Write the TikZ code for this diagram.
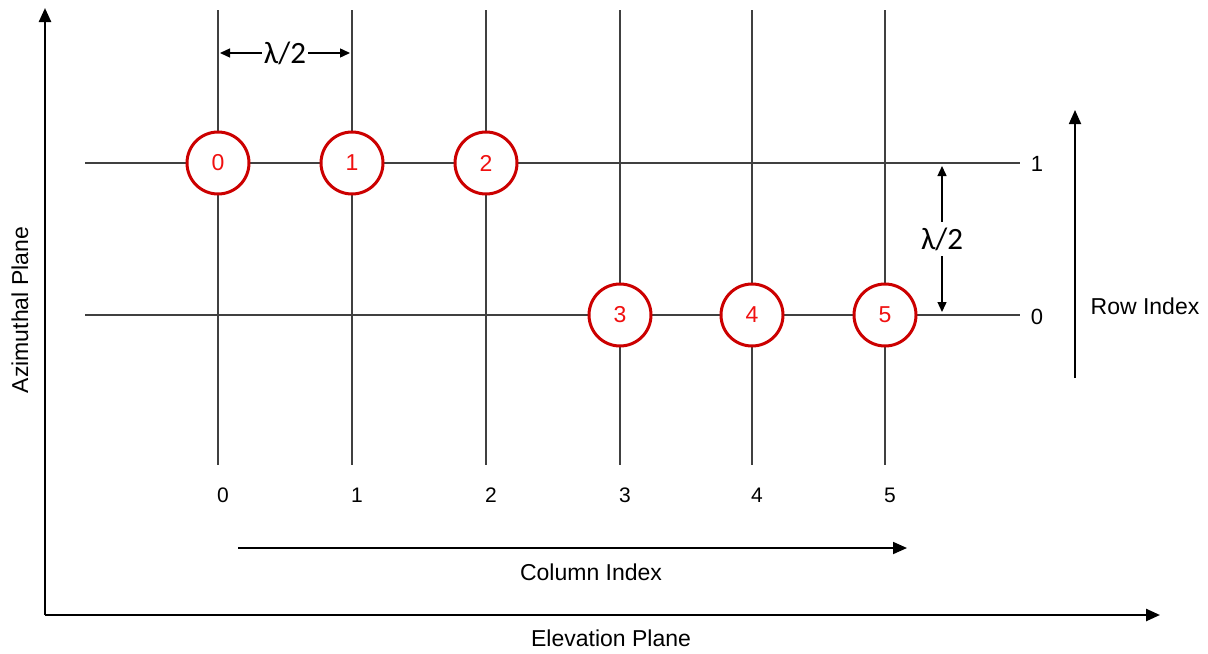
\documentclass[tikz,border=0pt]{standalone}
\usepackage{fontspec}
\setmainfont{Liberation Sans}
\newfontfamily\lamfont{Carlito}
\usepackage{xcolor}
\definecolor{ink}{HTML}{000000}
\definecolor{grid}{HTML}{404040}
\definecolor{elem}{HTML}{CC0000}
\definecolor{elemtxt}{HTML}{F01010}
\usepackage{tikz}
\usetikzlibrary{arrows.meta, positioning}
\tikzset{
  >={Triangle[length=7pt, width=6pt]},
  axis/.style={->, line width=1.2pt, color=ink},
  gridline/.style={line width=1pt, color=grid},
  elem/.style={circle, draw=elem, fill=white, line width=1.5pt, minimum size=31pt, inner sep=0pt,
    text=elemtxt, font=\fontsize{11.5}{13}\selectfont},
  idx/.style={->, line width=0.9pt, color=ink},
  dim/.style={{Triangle[length=5pt, width=4.5pt]}-{Triangle[length=5pt, width=4.5pt]}, line width=0.7pt, color=ink},
  lam/.style={fill=white, inner sep=1pt, font=\lamfont\fontsize{15.5}{17}\selectfont},
  lbl/.style={font=\fontsize{11.5}{14}\selectfont, text=ink},
  num/.style={font=\fontsize{10.5}{13}\selectfont, text=ink},
}

\begin{document}
\begin{tikzpicture}[x=0.5pt, y=-0.5pt]
  \useasboundingbox (0,0) rectangle (1208,653);

  % axes of the two planes
  \coordinate (o) at (45,615);
  \coordinate (ytop) at (45,8);
  \coordinate (xend) at (1160,615);
  \draw[axis] (o) -- (ytop);
  \draw[axis] (o) -- (xend);
  \node[lbl] (elev) at (611,638) {Elevation Plane};
  \node[lbl, rotate=90] (azim) at (20,310) {Azimuthal Plane};

  % the grid: rows and columns
  \coordinate (r1w) at (85,163);  \coordinate (r1e) at (1020,163);
  \coordinate (r0w) at (85,315);  \coordinate (r0e) at (1020,315);
  \draw[gridline] (r1w) -- (r1e);
  \draw[gridline] (r0w) -- (r0e);
  \node[lbl, font=\fontsize{11}{13}\selectfont] (row1) at (1037,164) {1};
  \node[lbl, font=\fontsize{11}{13}\selectfont] (row0) at (1037,317) {0};

  \foreach \c/\x in {0/218, 1/352, 2/486, 3/620, 4/752, 5/885} {
    \coordinate (c\c top) at (\x,10);
    \coordinate (c\c bot) at (\x,465);
    \draw[gridline] (c\c top) -- (c\c bot);
    \node[num] (col\c) at (\x+5,495) {\c};
  }

  % the six elements
  \foreach \e/\x/\y in {0/218/163, 1/352/163, 2/486/163, 3/620/315, 4/752/315, 5/885/315}
    \node[elem] (e\e) at (\x,\y) {\e};

  % spacing
  \coordinate (dl) at (220,53);
  \coordinate (dr) at (350,53);
  \draw[dim] (dl) -- (dr) node[midway, lam] (lamh) {λ/2};
  \coordinate (du) at (942,166);
  \coordinate (dd) at (942,312);
  \draw[dim] (du) -- (dd) node[pos=0.5, lam, inner sep=3pt] (lamv) {λ/2};

  % index arrows
  \coordinate (cs) at (238,548);
  \coordinate (ce) at (907,548);
  \draw[idx] (cs) -- (ce);
  \node[lbl] (colidx) at (591,572) {Column Index};
  \coordinate (rs) at (1075,378);
  \coordinate (re) at (1075,110);
  \draw[idx] (rs) -- (re);
  \node[lbl] (rowidx) at (1145,306) {Row Index};
\end{tikzpicture}
\end{document}
